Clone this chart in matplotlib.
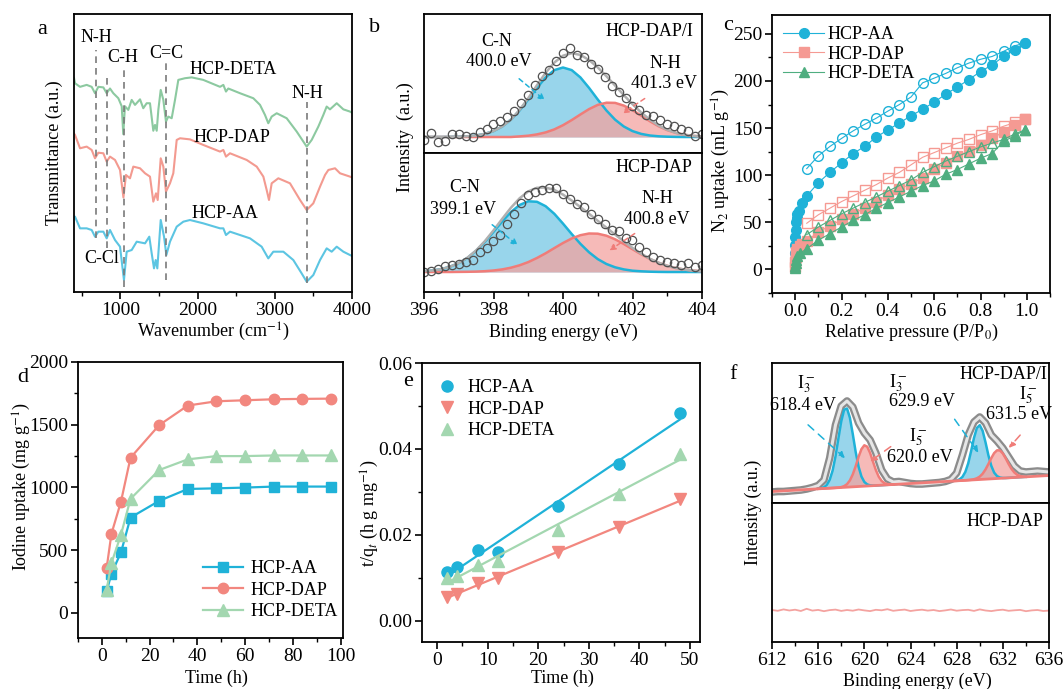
import numpy as np
import matplotlib.pyplot as plt
from matplotlib.ticker import MultipleLocator, FormatStrFormatter

plt.rcParams['font.family'] = 'Liberation Serif'
plt.rcParams['mathtext.fontset'] = 'stix'

# ---------------- data ----------------
# (a) FTIR spectra, transmittance in arbitrary units
ir_deta_x = [400, 413, 478, 564, 629, 672, 715, 780, 823, 866, 909, 974, 1018, 1038, 1060, 1103, 1147, 1190,
             1255, 1297, 1341, 1384, 1427, 1449, 1471, 1492, 1523, 1557, 1591, 1621, 1665, 1708, 1751, 1837,
             1924, 2074, 2291, 2334, 2368, 2398, 2550, 2722, 2809, 2873, 2916, 2960, 3025, 3154, 3284, 3370,
             3413, 3478, 3564, 3629, 3672, 3715, 3802, 3888, 3974, 4000]
ir_deta_y = [77.0, 75.1, 73.8, 74.5, 73.8, 71.5, 73.8, 73.6, 71.5, 73.2, 71.5, 69.7, 66.8, 56.8, 66.8, 65.5, 69.1,
             67.3, 69.3, 66.1, 67.9, 67.9, 58.0, 60.1, 58.0, 65.5, 72.7, 69.1, 61.3, 63.1, 62.5, 69.1, 76.3, 76.9,
             77.2, 76.3, 73.8, 74.5, 72.1, 73.2, 71.5, 69.7, 67.3, 63.7, 60.7, 63.1, 64.3, 62.5, 57.7, 54.1,
             52.3, 54.7, 59.5, 63.7, 66.7, 65.7, 67.9, 65.7, 64.9, 64.5]
ir_dap_x = [400, 413, 478, 564, 629, 672, 715, 780, 823, 866, 931, 996, 1040, 1073, 1125, 1168, 1255, 1320, 1384,
            1427, 1462, 1484, 1523, 1557, 1591, 1643, 1686, 1730, 1773, 1902, 2074, 2291, 2334, 2368, 2420, 2636,
            2766, 2852, 2895, 2925, 2960, 3046, 3197, 3327, 3413, 3499, 3586, 3651, 3694, 3780, 3845, 3974, 4000]
ir_dap_y = [57.0, 56.5, 51.7, 52.3, 51.1, 48.1, 50.1, 49.9, 46.9, 48.7, 47.5, 43.9, 34.0, 42.1, 40.9, 45.1, 44.5,
            42.7, 41.5, 32.5, 35.5, 33.1, 48.1, 45.1, 36.1, 39.1, 42.7, 54.7, 55.3, 54.9, 52.9, 50.5, 51.1, 48.7,
            49.9, 47.5, 45.1, 41.5, 36.7, 33.1, 39.1, 40.9, 39.1, 33.1, 29.5, 31.9, 37.9, 42.1, 43.9, 44.5, 42.7,
            41.5, 41.2]
ir_aa_x = [400, 413, 478, 564, 629, 672, 715, 780, 823, 866, 931, 996, 1047, 1082, 1147, 1212, 1320, 1375, 1406,
           1436, 1458, 1479, 1523, 1566, 1596, 1643, 1730, 1816, 1902, 2074, 2291, 2334, 2368, 2420, 2679, 2830,
           2916, 2981, 3111, 3240, 3348, 3413, 3499, 3586, 3672, 3737, 3802, 3888, 3974, 4000]
ir_aa_y = [27.1, 27.1, 22.9, 22.9, 22.3, 19.9, 21.7, 21.7, 19.3, 22.3, 18.7, 16.3, 4.3, 14.5, 15.1, 18.1, 17.5,
           19.9, 13.9, 8.5, 11.5, 8.5, 25.9, 19.9, 13.3, 18.1, 23.5, 25.3, 25.9, 24.7, 22.9, 22.9, 20.5, 21.7,
           19.3, 16.3, 12.1, 14.5, 14.5, 11.5, 6.7, 3.7, 6.1, 11.5, 15.7, 14.5, 16.3, 14.5, 13.3, 13.0]
band_x = [681, 823, 1047, 1591, 3413]
band_top = [87.0, 78.0, 80.6, 82.4, 68.3]
band_bot = [19.4, 15.8, 1.8, 4.3, 3.2]

# (b) N 1s XPS (0.25 eV fit grid, 0.2 eV raw points)
n1s_x = np.arange(396, 404.01, 0.25)
n1s_raw_x = np.arange(396, 404.01, 0.2)
dapi_base = 16.0
dapi_cn = [16.0, 16.0, 16.0, 16.1, 16.3, 16.7, 17.5, 19.1, 21.9, 26.5, 33.3, 42.5, 53.5, 65.1, 75.6, 82.9, 85.5,
           82.9, 75.6, 65.1, 53.5, 42.5, 33.3, 26.5, 21.9, 19.1, 17.5, 16.7, 16.3, 16.1, 16.0, 16.0, 16.0]
dapi_nh = [16.0] * 11 + [16.6, 17.3, 18.6, 20.6, 23.6, 27.8, 32.9, 38.5, 43.9, 48.1, 50.3, 50.1, 47.4, 42.9, 37.4,
                         31.8, 26.8, 22.9, 20.1, 18.2, 17.1, 16.5]
dapi_raw = [13, 20, 11, 12, 19, 19, 17, 16, 21, 24, 29, 32, 36, 42, 50, 58, 68, 77, 83, 92, 99.7, 104.7, 98, 96,
            89, 84, 76, 67, 61, 55, 47, 43, 38, 37, 33, 29.5, 27, 24, 22, 17, 19]
dap_base = 20.0
dap_cn = [20.8, 21.5, 22.9, 25.3, 28.9, 34.1, 41.2, 50.0, 60.1, 70.5, 79.9, 87.0, 90.7, 90.2, 85.8, 78.2, 68.4,
          58.0, 48.2, 39.7, 32.9, 28.0, 24.7, 22.6, 21.3, 20.7, 20.3, 20.1, 20.0, 20.0, 20.0, 20.0, 20.0]
dap_nh = [20.0, 20.0, 20.0, 20.0, 20.1, 20.2, 20.4, 20.8, 21.5, 22.6, 24.3, 26.7, 29.9, 34.0, 38.7, 43.9, 49.0,
          53.5, 56.8, 58.5, 58.3, 56.3, 52.7, 48.0, 42.8, 37.7, 33.0, 29.2, 26.2, 23.9, 22.4, 21.4, 20.7]
dap_raw = [20, 21, 23, 25.5, 27, 28, 30, 32, 40, 44, 51, 57, 68, 78, 89, 97, 100, 102, 104, 104, 98, 93, 88, 85,
           78, 73, 68, 62, 61, 54, 52, 45, 40, 35, 32, 30, 28.5, 27, 28.5, 25, 27]

# (c) N2 isotherms
p_low_aa = [0.0003, 0.0006, 0.001, 0.002, 0.004, 0.007, 0.01, 0.015, 0.03]
p_low_dap = [0.0005, 0.001, 0.002, 0.005, 0.01, 0.02, 0.03]
p_low_deta = [0.0005, 0.001, 0.002, 0.005, 0.01, 0.02]
p_grid = [0.05, 0.10, 0.15, 0.20, 0.25, 0.30, 0.35, 0.40, 0.45, 0.50, 0.55, 0.60, 0.65, 0.70, 0.75, 0.80,
          0.85, 0.90, 0.95]
p_top = 0.99
aa_ads_low = [17, 26, 34, 42, 50, 55, 59, 62, 71]
aa_ads = [78, 92, 103, 113, 123, 130.5, 140.5, 148, 155.5, 163, 170, 177.5, 186, 193.5, 201.5, 210, 217, 226, 233]
aa_top = 240
aa_des = [107, 120.5, 130.5, 139, 147, 154, 160.5, 168, 175, 183, 198, 203, 208, 214, 219, 223, 226, 231.5, 237.5]
dap_ads_low = [3, 8, 13, 18, 22, 25, 27]
dap_ads = [30, 40, 46, 53, 59, 65, 72, 79, 85, 91, 97, 107, 113, 120, 126, 132, 139, 146, 153]
dap_top = 160
dap_des = [49, 58, 65, 72, 78, 84, 90, 97, 103, 111, 119, 124, 129, 134, 138, 143, 147, 152, 156]
deta_ads_low = [1, 4, 7, 10, 14, 17]
deta_ads = [22, 31, 38, 45, 52, 58, 65, 71, 77, 83, 89, 94, 101, 106, 112, 118, 123, 136, 142]
deta_top = 148
deta_des = [37, 45, 52, 59, 65, 71, 77, 83, 89, 95, 103, 109, 115, 120, 125, 130, 134, 138, 144]

# (d) iodine uptake kinetics
t_d = [2, 4, 8, 12, 24, 36, 48, 60, 72, 84, 96]
up_aa = [172, 313, 482, 760, 893, 988, 993, 999, 1007, 1007, 1007]
up_dap = [358, 630, 887, 1237, 1497, 1653, 1687, 1695, 1703, 1706, 1708]
up_deta = [185, 397, 623, 909, 1139, 1224, 1250, 1250, 1255, 1255, 1255]

# (e) pseudo-second-order plot
t_e = [2, 4, 8, 12, 24, 36, 48]
tq_aa = [0.0114, 0.0125, 0.0164, 0.0159, 0.0268, 0.0364, 0.0483]
tq_dap = [0.0055, 0.0061, 0.0088, 0.0098, 0.0159, 0.0217, 0.0282]
tq_deta = [0.0100, 0.0104, 0.0129, 0.0138, 0.0212, 0.0294, 0.0387]

# (f) I 3d XPS
i3d_base_x = [612, 636]
i3d_base_y = [11.5, 27.5]
i3d_g1 = np.arange(616, 622.51, 0.25)
i3d_blue1 = [0.1, 0.4, 1.3, 3.5, 8.4, 17.4, 31.4, 49.0, 66.2, 77.6, 78.7, 69.2, 52.7, 34.7, 19.9, 9.8, 4.2, 1.6,
             0.5, 0.1, 0, 0, 0, 0, 0, 0, 0]
i3d_red1 = [0, 0, 0, 0, 0, 0, 0.0, 0.1, 0.4, 1.2, 3.0, 6.6, 12.5, 20.5, 29.6, 37.2, 40.9, 39.3, 32.9, 24.1, 15.4,
            8.6, 4.2, 1.8, 0.7, 0.2, 0.0]
i3d_g2 = np.arange(627.75, 634.01, 0.25)
i3d_blue2 = [0.1, 0.4, 1.3, 3.6, 8.4, 16.8, 28.8, 41.9, 51.7, 54.3, 48.5, 36.8, 23.7, 13.0, 6.0, 2.4, 0.8, 0.2,
             0, 0, 0, 0, 0, 0, 0, 0]
i3d_red2 = [0, 0, 0, 0, 0, 0.1, 0.2, 0.6, 1.4, 2.9, 5.6, 9.7, 15.0, 20.7, 25.6, 28.2, 27.9, 24.7, 19.6, 13.9, 8.8,
            5.0, 2.5, 1.1, 0.5, 0.0]
i3d_raw = [11, 11.5, 11.5, 12, 12.5, 13, 14, 15.5, 17.5, 23, 45, 78, 97, 102, 96, 80, 70, 63, 50, 33, 24, 21,
           21.5, 20.5, 19.5, 19, 19, 19.5, 20, 20.5, 21.5, 23.5, 30, 48, 68, 81, 86, 80, 68, 62, 55, 46, 37, 32,
           31, 31.5, 32, 31.5, 31]
i3d_dap = [32.0, 31.2, 32.6, 31.5, 32.3, 31.0, 33.2, 31.4, 32.1, 30.8, 31.9, 32.4, 31.1, 32.0, 31.3, 32.5, 31.6,
           30.9, 32.2, 31.7, 32.8, 31.2, 31.9, 32.4, 31.0, 31.8, 32.3, 31.4, 32.0, 30.9, 31.6, 32.5, 31.3, 31.9,
           32.2, 31.1, 32.6, 31.5, 30.9, 31.8, 32.3, 31.2, 31.7, 32.1, 30.8, 31.6, 32.0, 31.0, 31.4]

# ---------------- colours ----------------
c_blue = '#1fb2d8'
c_red = '#f07c78'
c_green_a = '#8cc9a0'
c_green_c = '#4fae80'
c_green_d = '#a3d7b0'
fill_blue = '#8dd1e9'
fill_red = '#f3a3a0'
TICK = 14

W, H = 1064, 689
fig = plt.figure(figsize=(W / 100, H / 100), dpi=100)


def box(l, t, r, b):
    return [l / W, 1 - b / H, (r - l) / W, (b - t) / H]


def ftext(x, y, s, ha='center', size=13, **kw):
    fig.text(x / W, 1 - y / H, s, ha=ha, va='center', fontsize=size, **kw)


def arrow(x0, y0, x1, y1, color, dash=(3, 2.5)):
    fig.add_artist(plt.matplotlib.patches.FancyArrowPatch(
        (x0 / W, 1 - y0 / H), (x1 / W, 1 - y1 / H), transform=fig.transFigure,
        arrowstyle='-|>', mutation_scale=9, color=color, lw=1.1, linestyle=(0, dash)))


def style(ax):
    for sp in ax.spines.values():
        sp.set_linewidth(1.3)
    ax.tick_params(which='major', direction='out', length=5, width=1.2, labelsize=TICK, pad=2)
    ax.tick_params(which='minor', direction='out', length=3, width=1)


# ---------------- (a) ----------------
ax = fig.add_axes(box(74, 14, 352, 292))
ax.plot(ir_deta_x, ir_deta_y, color=c_green_a, lw=1.5)
ax.plot(ir_dap_x, ir_dap_y, color='#f39a90', lw=1.5)
ax.plot(ir_aa_x, ir_aa_y, color='#5cc5e2', lw=1.5)
for bx, bt, bb in zip(band_x, band_top, band_bot):
    ax.plot([bx, bx], [bb, bt], color='#7a7a7a', lw=1.2, ls=(0, (4, 3)))
ax.set_xlim(400, 4000)
ax.set_ylim(0, 100)
ax.set_yticks([])
ax.xaxis.set_major_locator(MultipleLocator(1000))
ax.xaxis.set_minor_locator(MultipleLocator(500))
style(ax)
for x, y, s in [(96, 38, 'N-H'), (123, 57, 'C-H'), (166, 54, 'C=C'), (233, 70, 'HCP-DETA'),
                (307, 94, 'N-H'), (232, 137, 'HCP-DAP'), (225, 214, 'HCP-AA'), (102, 259, 'C-Cl')]:
    ftext(x, y, s)
ftext(54, 153, 'Transmittance (a.u.)', rotation=90)
ftext(213, 332, 'Wavenumber (cm$^{-1}$)')


# ---------------- (b) ----------------
def xps_panel(ax, base, cn, nh, raw):
    cn = np.array(cn)
    nh = np.array(nh)
    ax.fill_between(n1s_x, base, cn, color=fill_blue, lw=0, alpha=0.9)
    ax.plot(n1s_x, cn, color=c_blue, lw=1.8)
    ax.fill_between(n1s_x, base, nh, color=fill_red, lw=0, alpha=0.75)
    ax.plot(n1s_x, nh, color=c_red, lw=1.8)
    ax.plot(n1s_x, cn + nh - base, color='#b0b0b0', lw=1.8)
    ax.plot(n1s_raw_x, raw, 'o', mfc='none', mec='#505050', ms=6, mew=0.9)
    ax.set_xlim(396, 404)
    ax.set_ylim(0, 139)
    ax.set_yticks([])
    style(ax)


axb1 = fig.add_axes(box(424, 14, 702, 153))
xps_panel(axb1, dapi_base, dapi_cn, dapi_nh, dapi_raw)
axb1.set_xticks([])
axb2 = fig.add_axes(box(424, 153, 702, 292))
xps_panel(axb2, dap_base, dap_cn, dap_nh, dap_raw)
axb2.xaxis.set_major_locator(MultipleLocator(2))
axb2.xaxis.set_minor_locator(MultipleLocator(1))
ftext(693, 32, 'HCP-DAP/I', ha='right')
ftext(497, 42, 'C-N')
ftext(499, 62, '400.0 eV')
ftext(665, 63, 'N-H')
ftext(664, 84, '401.3 eV')
ftext(692, 167, 'HCP-DAP', ha='right')
ftext(465, 188, 'C-N')
ftext(463, 209, '399.1 eV')
ftext(657, 198, 'N-H')
ftext(657, 219, '400.8 eV')
arrow(517, 77, 547, 102, c_blue)
arrow(647, 97, 620, 115, c_red)
arrow(490, 223, 520, 247, c_blue)
arrow(637, 232, 607, 252, c_red)
ftext(405, 137, 'Intensity  (a.u.)', rotation=90)
ftext(563, 332, 'Binding energy (eV)')

# ---------------- (c) ----------------
ax = fig.add_axes(box(772, 15, 1050, 293))
series_c = [
    ('HCP-AA', 'o', c_blue, p_low_aa, aa_ads_low, aa_ads, aa_top, aa_des),
    ('HCP-DAP', 's', '#f59a93', p_low_dap, dap_ads_low, dap_ads, dap_top, dap_des),
    ('HCP-DETA', '^', c_green_c, p_low_deta, deta_ads_low, deta_ads, deta_top, deta_des),
]
for name, mk, col, plow, ylow, yads, ytop, ydes in series_c:
    xa = plow + p_grid + [p_top]
    ya = ylow + yads + [ytop]
    ax.plot(xa, ya, marker=mk, color=col, lw=0.8, ms=7, label=name)
    ax.plot(p_grid + [p_top], ydes + [ytop], marker=mk, color=col, mfc='none', lw=0.8, ms=7, mew=1)
ax.set_xlim(-0.1, 1.1)
ax.set_ylim(-25, 270)
ax.xaxis.set_major_locator(MultipleLocator(0.2))
ax.xaxis.set_minor_locator(MultipleLocator(0.1))
ax.xaxis.set_major_formatter(FormatStrFormatter('%.1f'))
ax.yaxis.set_major_locator(MultipleLocator(50))
ax.yaxis.set_minor_locator(MultipleLocator(25))
style(ax)
ax.legend(loc='upper left', frameon=False, fontsize=13, handlelength=2.3, handletextpad=0.2,
          borderaxespad=0.2, borderpad=0.4, labelspacing=0.15)
ftext(721, 160, 'N$_2$ uptake (mL g$^{-1}$)', rotation=90)
ftext(911, 332, 'Relative pressure (P/P$_0$)')

# ---------------- (d) ----------------
ax = fig.add_axes(box(78, 362, 343, 638))
ax.plot(t_d, up_aa, marker='s', color=c_blue, lw=1.6, ms=7, label='HCP-AA')
ax.plot(t_d, up_dap, marker='o', color='#f2877f', lw=1.6, ms=7.5, label='HCP-DAP')
ax.plot(t_d, up_deta, marker='^', color=c_green_d, lw=1.6, ms=8, label='HCP-DETA')
ax.set_xlim(-10, 101)
ax.set_ylim(-200, 2000)
ax.xaxis.set_major_locator(MultipleLocator(20))
ax.xaxis.set_minor_locator(MultipleLocator(10))
ax.yaxis.set_major_locator(MultipleLocator(500))
ax.yaxis.set_minor_locator(MultipleLocator(250))
style(ax)
ax.legend(loc='lower right', bbox_to_anchor=(1.0, 0.045), frameon=False, fontsize=13, handlelength=2.2,
          handletextpad=0.4, borderaxespad=0.1, borderpad=0.2, labelspacing=0.25)
ftext(22, 487, 'Iodine uptake (mg g$^{-1}$)', rotation=90)
ftext(216, 678, 'Time (h)')

# ---------------- (e) ----------------
ax = fig.add_axes(box(422, 363, 700, 642))
for name, mk, col, vals in [('HCP-AA', 'o', c_blue, tq_aa),
                            ('HCP-DAP', 'v', '#f2877f', tq_dap),
                            ('HCP-DETA', '^', c_green_d, tq_deta)]:
    ax.plot(t_e, vals, mk, color=col, ms=8, label=name)
    p = np.polyfit(t_e, vals, 1)
    xs = np.array([t_e[0], t_e[-1]])
    ax.plot(xs, np.polyval(p, xs), color=col, lw=1.6)
ax.set_xlim(-3, 52)
ax.set_ylim(-0.005, 0.06)
ax.xaxis.set_major_locator(MultipleLocator(10))
ax.xaxis.set_minor_locator(MultipleLocator(5))
ax.yaxis.set_major_locator(MultipleLocator(0.02))
ax.yaxis.set_minor_locator(MultipleLocator(0.01))
ax.yaxis.set_major_formatter(FormatStrFormatter('%.2f'))
style(ax)
ax.legend(loc='upper left', frameon=False, fontsize=13, handlelength=1.0, handletextpad=0.6,
          borderaxespad=0.5, borderpad=0.4, labelspacing=0.25)
ftext(370, 513, 't/q$_t$ (h g mg$^{-1}$)', rotation=90)
ftext(562, 678, 'Time (h)')

# ---------------- (f) ----------------
axf1 = fig.add_axes(box(772, 363, 1049, 503))
base_line_x = np.array(i3d_base_x, dtype=float)
base_line_y = np.array(i3d_base_y, dtype=float)
raw_x = np.linspace(612, 636, len(i3d_raw))
axf1.plot(raw_x, i3d_raw, color='#8c8c8c', lw=5.5, solid_capstyle='round')
axf1.plot(raw_x, i3d_raw, color='#e6e6e6', lw=2.2)
for grid, blue, red in [(i3d_g1, i3d_blue1, i3d_red1), (i3d_g2, i3d_blue2, i3d_red2)]:
    b0 = np.interp(grid, base_line_x, base_line_y)
    axf1.fill_between(grid, b0, b0 + np.array(blue), color=fill_blue, lw=0, alpha=0.9)
    axf1.plot(grid, b0 + np.array(blue), color=c_blue, lw=1.8)
    axf1.fill_between(grid, b0, b0 + np.array(red), color=fill_red, lw=0, alpha=0.75)
    axf1.plot(grid, b0 + np.array(red), color=c_red, lw=1.8)
axf1.plot(base_line_x, base_line_y, color=c_red, lw=2)
axf1.set_xlim(612, 636)
axf1.set_ylim(0, 140)
axf1.set_xticks([])
axf1.set_yticks([])
style(axf1)
axf2 = fig.add_axes(box(772, 503, 1049, 642))
axf2.plot(np.linspace(612, 636, len(i3d_dap)), i3d_dap, color='#f4a3a0', lw=1.3)
axf2.set_xlim(612, 636)
axf2.set_ylim(0, 139)
axf2.set_yticks([])
axf2.xaxis.set_major_locator(MultipleLocator(4))
axf2.xaxis.set_minor_locator(MultipleLocator(2))
style(axf2)
ftext(1047, 375, 'HCP-DAP/I', ha='right')
ftext(806, 384, 'I$_3^-$')
ftext(803, 405, '618.4 eV')
ftext(898, 383, 'I$_3^-$')
ftext(922, 402, '629.9 eV')
ftext(918, 437, 'I$_5^-$')
ftext(920, 457, '620.0 eV')
ftext(1028, 395, 'I$_5^-$')
ftext(1019, 414, '631.5 eV')
ftext(1043, 522, 'HCP-DAP', ha='right')
arrow(806, 423, 847, 460, c_blue, dash=(5, 4))
arrow(893, 445, 868, 463, c_red, dash=(5, 4))
arrow(953, 417, 980, 455, c_blue, dash=(5, 4))
arrow(1022, 433, 1007, 450, c_red, dash=(5, 4))
ftext(753, 512, 'Intensity (a.u.)', rotation=90)
ftext(917, 681, 'Binding energy (eV)')

# panel letters
for x, y, s in [(42, 30, 'a'), (375, 28, 'b'), (728, 25, 'c'), (23, 377, 'd'), (408, 381, 'e'), (733, 375, 'f')]:
    ftext(x, y, s, size=16)

fig.savefig('out.png', dpi=100)
